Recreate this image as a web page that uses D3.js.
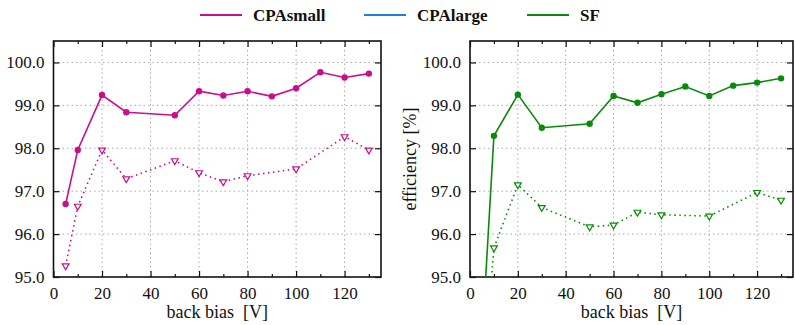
<!DOCTYPE html>
<html><head><meta charset="utf-8">
<script src="https://cdn.jsdelivr.net/npm/d3@7"></script>
<style>
body{margin:0;background:#fff;}
svg text{font-family:"Liberation Serif","Times New Roman",serif;fill:#111;white-space:pre;}
</style></head>
<body><svg id="c" width="795" height="325"></svg>
<script>
// ---- data ----
const seriesNames = ["CPAsmall", "CPAlarge", "SF"];
const seriesColors = ["#c8108e", "#1a7fe0", "#0a8a0a"];

const cpaSmallX = [5, 10, 20, 30, 50, 60, 70, 80, 90, 100, 110, 120, 130];
const cpaSmallEff = [96.70, 97.96, 99.24, 98.84, 98.77, 99.33, 99.23, 99.33, 99.21, 99.40, 99.77, 99.65, 99.74];
const cpaSmallX2 = [5, 10, 20, 30, 50, 60, 70, 80, 100, 120, 130];
const cpaSmallEff2 = [95.26, 96.65, 97.96, 97.29, 97.71, 97.43, 97.22, 97.36, 97.52, 98.27, 97.96];

const sfX = [5, 10, 20, 30, 50, 60, 70, 80, 90, 100, 110, 120, 130];
const sfEff = [93.5, 98.29, 99.25, 98.48, 98.57, 99.22, 99.06, 99.26, 99.44, 99.22, 99.46, 99.53, 99.63];
const sfX2 = [5, 10, 20, 30, 50, 60, 70, 80, 100, 120, 130];
const sfEff2 = [92.2, 95.68, 97.15, 96.62, 96.17, 96.21, 96.51, 96.45, 96.42, 96.97, 96.79];

const xTicks = [0, 20, 40, 60, 80, 100, 120];
const xMinor = [10, 30, 50, 70, 90, 110, 130];
const yTicks = [95, 96, 97, 98, 99, 100];

const svg = d3.select("#c");

function panel(left, right, solidX, solidY, dotX, dotY, color, yLabel, clipId) {
  const top = 41, bottom = 277;
  const x = d3.scaleLinear().domain([0, 135]).range([left, right]);
  const y = d3.scaleLinear().domain([95, 100.5]).range([bottom, top]);
  const g = svg.append("g");
  svg.append("clipPath").attr("id", clipId).append("rect")
    .attr("x", left).attr("y", top).attr("width", right - left).attr("height", bottom - top);
  // grid
  g.selectAll(".gx").data(xTicks.filter(d => d > 0)).join("line")
    .attr("x1", d => x(d)).attr("x2", d => x(d)).attr("y1", top).attr("y2", bottom)
    .attr("stroke", "#aaa").attr("stroke-width", 1).attr("stroke-dasharray", "1.5,3");
  g.selectAll(".gy").data(yTicks.filter(d => d > 95)).join("line")
    .attr("y1", d => y(d)).attr("y2", d => y(d)).attr("x1", left).attr("x2", right)
    .attr("stroke", "#aaa").attr("stroke-width", 1).attr("stroke-dasharray", "1.5,3");
  // axes (inward ticks on all sides)
  const xb = d3.axisBottom(x).tickValues(xTicks).tickSize(-6).tickPadding(10).tickFormat(d3.format("d"));
  const gxb = g.append("g").attr("transform", `translate(0,${bottom})`).call(xb);
  gxb.select(".domain").remove();
  gxb.selectAll("text").style("font-size", "17px").style("font-family", null);
  const xbm = d3.axisBottom(x).tickValues(xMinor).tickSize(-3).tickFormat("");
  g.append("g").attr("transform", `translate(0,${bottom})`).call(xbm).select(".domain").remove();
  const xt = d3.axisTop(x).tickValues(xTicks).tickSize(-6).tickFormat("");
  g.append("g").attr("transform", `translate(0,${top})`).call(xt).select(".domain").remove();
  const xtm = d3.axisTop(x).tickValues(xMinor).tickSize(-3).tickFormat("");
  g.append("g").attr("transform", `translate(0,${top})`).call(xtm).select(".domain").remove();
  const yl = d3.axisLeft(y).tickValues(yTicks).tickSize(-6).tickPadding(9).tickFormat(d3.format(".1f"));
  const gyl = g.append("g").attr("transform", `translate(${left},0)`).call(yl);
  gyl.select(".domain").remove();
  gyl.selectAll("text").style("font-size", "17px");
  const yr = d3.axisRight(y).tickValues(yTicks).tickSize(-6).tickFormat("");
  g.append("g").attr("transform", `translate(${right},0)`).call(yr).select(".domain").remove();
  g.selectAll(".tick line").attr("stroke", "#111").attr("stroke-width", 1.2);
  g.selectAll(".tick text").attr("font-family", null);
  // frame
  g.append("rect").attr("x", left).attr("y", top).attr("width", right - left).attr("height", bottom - top)
    .attr("fill", "none").attr("stroke", "#111").attr("stroke-width", 1.6);

  const line = d3.line().x(d => x(d[0])).y(d => y(d[1]));
  const data = g.append("g").attr("clip-path", `url(#${clipId})`);
  const solid = solidX.map((v, i) => [v, solidY[i]]);
  const dotted = dotX.map((v, i) => [v, dotY[i]]);
  data.append("path").datum(solid).attr("d", line).attr("fill", "none")
    .attr("stroke", color).attr("stroke-width", 1.6);
  data.append("path").datum(dotted).attr("d", line).attr("fill", "none")
    .attr("stroke", color).attr("stroke-width", 1.6).attr("stroke-dasharray", "1.5,3.5");
  data.selectAll(".pt").data(solid).join("circle")
    .attr("cx", d => x(d[0])).attr("cy", d => y(d[1])).attr("r", 3.2).attr("fill", color);
  const tri = d3.symbol().type(d3.symbolTriangle).size(20);
  data.selectAll(".tr").data(dotted).join("path")
    .attr("d", tri).attr("transform", d => `translate(${x(d[0])},${y(d[1])}) rotate(180)`)
    .attr("fill", "#fff").attr("stroke", color).attr("stroke-width", 1.2);

  svg.append("text").attr("x", (left + right) / 2).attr("y", 318).attr("text-anchor", "middle")
    .style("font-size", "18px").text("back bias  [V]");
  if (yLabel) {
    svg.append("text").attr("transform", `translate(416,${(top + bottom) / 2}) rotate(-90)`)
      .attr("text-anchor", "middle").style("font-size", "18px").text(yLabel);
  }
}

panel(53.5, 381, cpaSmallX, cpaSmallEff, cpaSmallX2, cpaSmallEff2, seriesColors[0], null, "clipL");
panel(470, 793, sfX, sfEff, sfX2, sfEff2, seriesColors[2], "efficiency [%]", "clipR");

// legend
const legX = [200, 364, 527];
const lg = svg.append("g");
seriesNames.forEach((n, i) => {
  lg.append("line").attr("x1", legX[i]).attr("x2", legX[i] + 42).attr("y1", 15).attr("y2", 15)
    .attr("stroke", seriesColors[i]).attr("stroke-width", 2.2);
  lg.append("text").attr("x", legX[i] + 53).attr("y", 21).style("font-size", "17px")
    .style("font-weight", "bold").text(n);
});
</script></body></html>
